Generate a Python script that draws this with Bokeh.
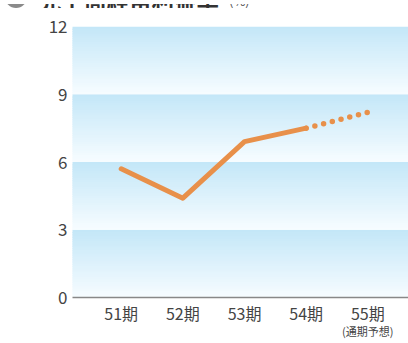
from bokeh.plotting import figure
from bokeh.models import FixedTicker, Range1d, LinearAxis, Div
from bokeh.layouts import column
from bokeh.embed import file_html
from bokeh.resources import INLINE

categories = ["51期", "52期", "53期", "54期", "55期"]
values = [5.7, 4.4, 6.9, 7.5, 8.2]
y_ticks = [0, 3, 6, 9, 12]
title_text = "売上高経常利益率"
unit_text = "(%)"
forecast_note = "(通期予想)"

FONT = "Noto Sans CJK JP"
xs = list(range(len(categories)))

# ---- title strip (only the lower part of the title is visible, as in the reference)
TH = 8
title_html = (
    f'<div style="position:relative;width:408px;height:{TH}px;overflow:hidden;margin-top:-2px;'
    f'font-family:\'{FONT}\';background:white;">'
    '<span style="position:absolute;left:5px;top:-18px;width:22px;height:22px;'
    'border-radius:50%;background:#8a8a8a;"></span>'
    '<span style="position:absolute;left:39px;top:-16px;font-size:22.5px;font-weight:bold;'
    f'line-height:1;color:#333333;white-space:nowrap;">{title_text}</span>'
    '<span style="position:absolute;left:229px;top:-10px;font-size:13px;'
    f'line-height:1;color:#555555;white-space:nowrap;">{unit_text}</span>'
    '</div>'
)
t = Div(text=title_html, width=408, height=TH, margin=0, styles={"overflow": "hidden"})

# ---- main chart
p = figure(width=408, height=333, output_backend="svg", toolbar_location=None,
           x_range=Range1d(-0.79, 4.66), y_range=Range1d(0, 12),
           min_border_left=72, min_border_right=0, min_border_top=18, min_border_bottom=44)
p.outline_line_color = None
p.background_fill_color = "white"
p.border_fill_color = "white"
p.xgrid.visible = False
p.ygrid.visible = False

def lerp(c1, c2, f):
    return "#%02x%02x%02x" % tuple(int(round(a + (b - a) * f)) for a, b in zip(c1, c2))

top_c = (0xc4, 0xe7, 0xf8)
bot_c = (0xf6, 0xfc, 0xff)
N = 30
for i in range(len(y_ticks) - 1):
    lo, hi = y_ticks[i], y_ticks[i + 1]
    step = (hi - lo) / N
    bottoms, tops, cols = [], [], []
    for k in range(N):
        bottoms.append(max(lo, hi - (k + 1) * step - step * 0.6))
        tops.append(hi - k * step)
        cols.append(lerp(top_c, bot_c, k / (N - 1)))
    p.quad(left=-2, right=6, bottom=bottoms, top=tops, fill_color=cols, line_color=None)

line_color = "#e8904a"
p.line(xs[:4], values[:4], line_color=line_color, line_width=5, line_cap="round", line_join="round")
p.line(xs[3:], values[3:], line_color=line_color, line_width=5.5, line_cap="round", line_dash="0 9")

p.yaxis.ticker = FixedTicker(ticks=y_ticks)
p.yaxis.axis_line_color = None
p.yaxis.major_tick_line_color = None
p.yaxis.minor_tick_line_color = None
p.yaxis.major_tick_out = 0
p.yaxis.major_tick_in = 0
p.yaxis.major_label_text_font = FONT
p.yaxis.major_label_text_font_size = "17px"
p.yaxis.major_label_text_color = "#444444"
p.yaxis.major_label_standoff = 5

p.xaxis.ticker = FixedTicker(ticks=xs)
p.xaxis.major_label_overrides = {i: c for i, c in enumerate(categories)}
p.xaxis.axis_line_color = "#888888"
p.xaxis.axis_line_width = 1.5
p.xaxis.major_tick_line_color = None
p.xaxis.minor_tick_line_color = None
p.xaxis.major_tick_out = 0
p.xaxis.major_tick_in = 0
p.xaxis.major_label_text_font = FONT
p.xaxis.major_label_text_font_size = "16px"
p.xaxis.major_label_text_color = "#444444"
p.xaxis.major_label_standoff = 3

note_axis = LinearAxis(ticker=FixedTicker(ticks=[4]),
                       major_label_overrides={4: forecast_note},
                       axis_line_color=None, major_tick_line_color=None,
                       minor_tick_line_color=None, major_tick_out=0, major_tick_in=0,
                       major_label_text_font=FONT, major_label_text_font_size="11px",
                       major_label_text_color="#444444", major_label_standoff=-5)
p.add_layout(note_axis, "below")

layout = column(t, p, spacing=0)
open("out.html", "w").write(file_html(layout, INLINE))
